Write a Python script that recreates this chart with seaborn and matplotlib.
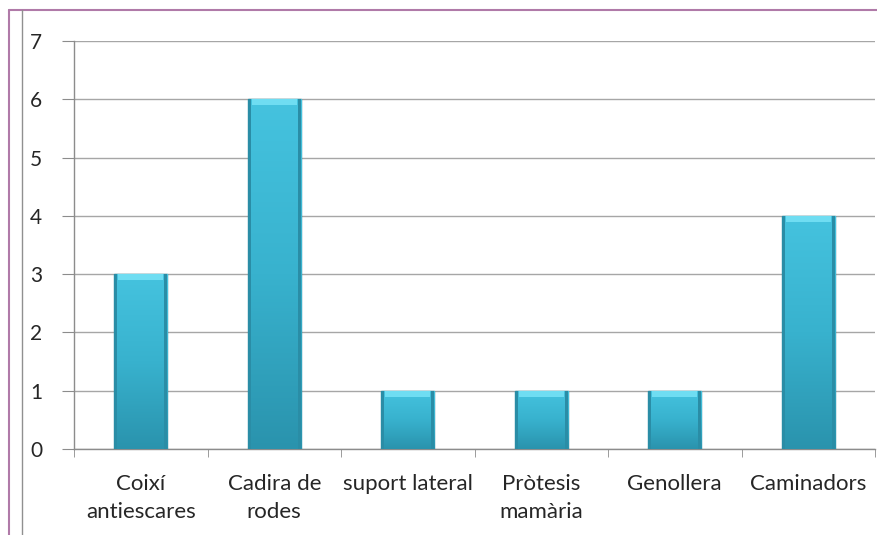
import numpy as np
import matplotlib
matplotlib.use("Agg")
import matplotlib.pyplot as plt
from matplotlib.lines import Line2D
from matplotlib.colors import LinearSegmentedColormap
import seaborn as sns
import pandas as pd

# data
categories = ["Coixí\nantiescares", "Cadira de\nrodes", "suport lateral",
              "Pròtesis\nmamària", "Genollera", "Caminadors"]
counts = [3, 6, 1, 1, 1, 4]

df = pd.DataFrame({"cat": categories, "n": counts})

sns.set_style("white")
plt.rcParams["font.family"] = ["Lato", "DejaVu Sans"]

fig = plt.figure(figsize=(8.77, 5.35), dpi=100)
ax = fig.add_axes([74 / 877, 1 - 449 / 535, 801 / 877, 408 / 535])

sns.barplot(data=df, x="cat", y="n", color="#36B0CD", width=0.4, ax=ax,
            edgecolor="#25879F", linewidth=1.0, zorder=3)

# vertical gradient on each bar (light top, darker bottom)
cmap = LinearSegmentedColormap.from_list("bar", ["#2A93AD", "#38B2CE", "#45C3DF"])
grad = np.linspace(0, 1, 256).reshape(-1, 1)
for p in ax.patches:
    x0, y0 = p.get_x(), p.get_y()
    w, h = p.get_width(), p.get_height()
    im = ax.imshow(grad, cmap=cmap, aspect="auto", origin="lower",
                   extent=[x0, x0 + w, y0, y0 + h], zorder=4)
    im.set_clip_path(p)
    # lighter top bevel
    ax.fill_between([x0 + 0.03, x0 + w - 0.03], y0 + h - 0.1, y0 + h,
                    color="#6FDDF2", zorder=5, linewidth=0)
    # darker side edges
    ax.fill_between([x0, x0 + 0.025], y0, y0 + h, color="#2A8DA6", zorder=5, linewidth=0)
    ax.fill_between([x0 + w - 0.025, x0 + w], y0, y0 + h, color="#2A8DA6", zorder=5,
                    linewidth=0)

ax.set_xlim(-0.5, len(categories) - 0.5)
ax.set_ylim(0, 7)
ax.set_yticks(range(0, 8))
ax.set_xlabel("")
ax.set_ylabel("")

ax.yaxis.grid(True, color="#A6A6A6", linewidth=1.0, zorder=0)
ax.set_axisbelow(True)
for s in ["top", "right"]:
    ax.spines[s].set_visible(False)
for s in ["left", "bottom"]:
    ax.spines[s].set_color("#8C8C8C")
    ax.spines[s].set_linewidth(1.0)

ax.tick_params(axis="y", direction="out", length=9, color="#8C8C8C",
               labelsize=15, pad=14, left=True)
ax.tick_params(axis="x", length=0, labelsize=16, pad=18)
# category boundary ticks
ax.set_xticks(np.arange(-0.5, len(categories) + 0.5, 1), minor=True)
ax.tick_params(axis="x", which="minor", direction="out", length=6,
               color="#8C8C8C", bottom=True)
for lab in ax.get_xticklabels() + ax.get_yticklabels():
    lab.set_color("#262626")
for lab in ax.get_xticklabels():
    lab.set_linespacing(1.5)

# frame lines around the chart
fig.add_artist(Line2D([9 / 877, 1], [1 - 9.5 / 535] * 2, color="#B07AA8", lw=1.5))
fig.add_artist(Line2D([9 / 877] * 2, [0, 1 - 9.5 / 535], color="#B07AA8", lw=1.5))
fig.add_artist(Line2D([21.5 / 877] * 2, [0, 1 - 10 / 535], color="#909090", lw=1.0))

fig.savefig("out.png", dpi=100)
